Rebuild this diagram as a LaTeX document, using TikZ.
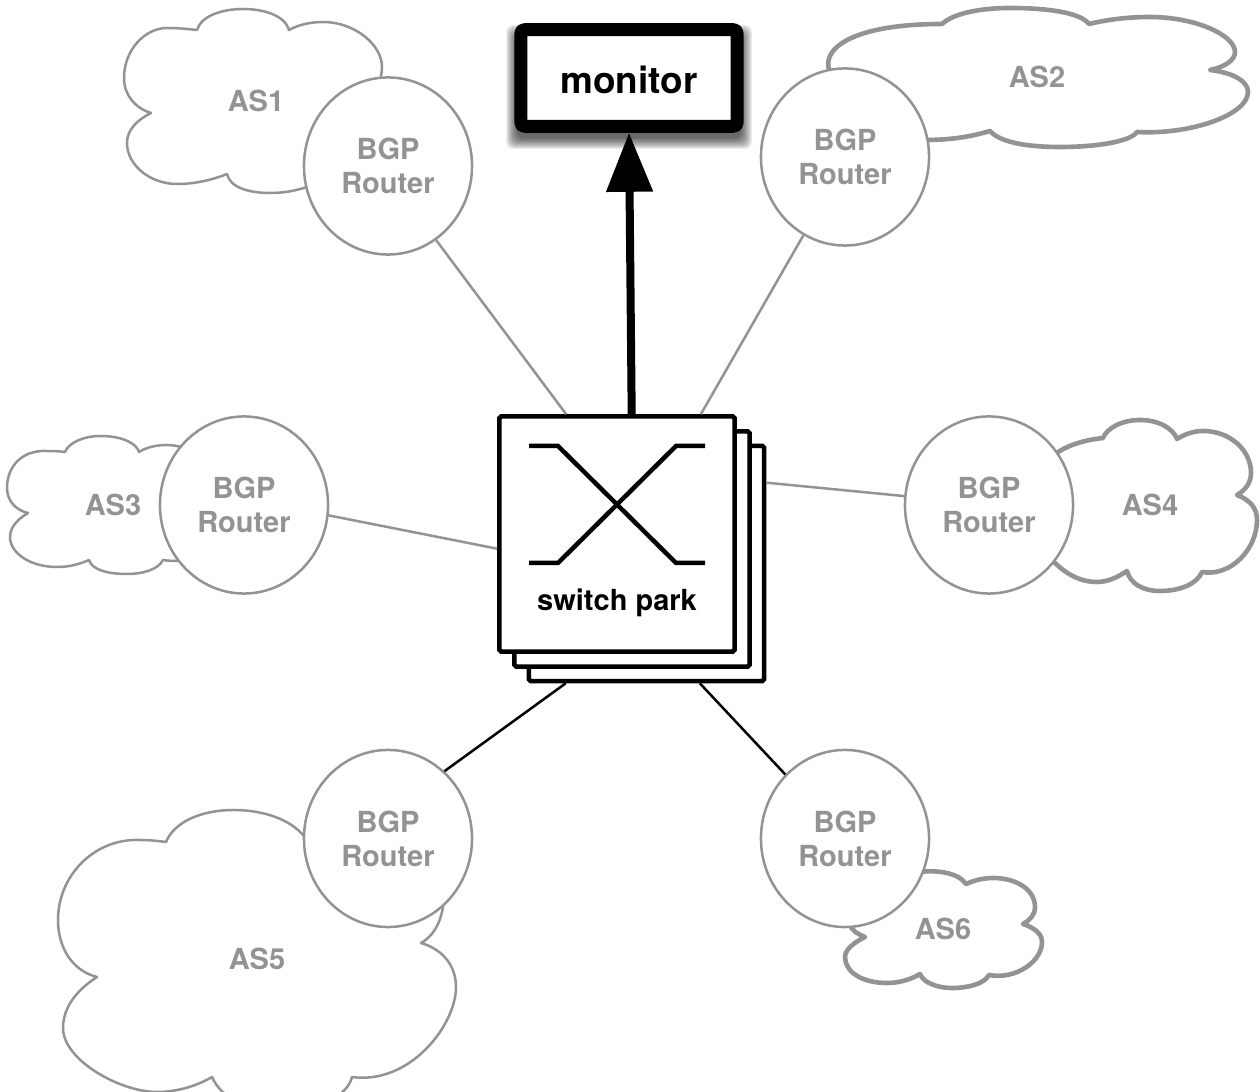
\documentclass[tikz,border=0pt]{standalone}
\usepackage{fontspec}
\setmainfont{TeX Gyre Heros}
\usetikzlibrary{arrows.meta,shapes.geometric}
\definecolor{asgray}{HTML}{939393}
\tikzset{
	thincloud/.style={draw=asgray, fill=white, line width=0.025cm, line join=round},
	thickcloud/.style={draw=asgray, fill=white, line width=0.046cm, line join=round},
	astext/.style={text=asgray, font=\fontsize{8.25}{9.7}\selectfont\bfseries},
	router/.style={ellipse, draw=asgray, fill=white, line width=0.025cm, minimum width=1.68cm, minimum height=1.77cm, inner sep=0pt, align=center, astext},
	switchbox/.style={rectangle, draw=black, fill=white, line width=0.045cm, minimum width=2.35cm, minimum height=2.35cm, rounded corners=0.5pt},
	graylink/.style={draw=asgray, line width=0.025cm},
	blacklink/.style={draw=black, line width=0.025cm},
	crossing/.style={line width=0.045cm}
}

\begin{document}
\begin{tikzpicture}[x=0.01cm, y=-0.01cm]
	%%%%% START %%%%%
	\useasboundingbox (0, 0) rectangle (1260, 1092);

	% clouds
	\draw[thincloud] (197,30) .. controls (201,16) and (222,9) .. (243,9) .. controls (265,9) and (285,16) .. (289,30)
		.. controls (298,25) and (310,22) .. (323,22) .. controls (355,22) and (382,45) .. (382,67)
		.. controls (382,72) and (381,76) .. (380,80) .. controls (370,120) and (340,170) .. (307,187)
		.. controls (295,191) and (283,193) .. (270,193) .. controls (250,193) and (230,188) .. (227,174)
		.. controls (212,180) and (195,184) .. (177,184) .. controls (150,184) and (127,165) .. (127,143)
		.. controls (127,130) and (137,120) .. (151,113) .. controls (135,108) and (124,95) .. (124,78)
		.. controls (124,50) and (145,28) .. (167,28) .. controls (178,28) and (188,29) .. (197,30) -- cycle;

	\draw[thickcloud] (830,72) .. controls (820,50) and (850,24) .. (942,24) .. controls (955,12) and (985,8) .. (1010,8)
		.. controls (1045,8) and (1080,12) .. (1089,24) .. controls (1110,19) and (1130,17) .. (1150,17)
		.. controls (1195,17) and (1235,35) .. (1235,52) .. controls (1235,60) and (1225,67) .. (1210,70)
		.. controls (1235,73) and (1248,82) .. (1248,92) .. controls (1248,115) and (1190,135) .. (1137,132)
		.. controls (1130,142) and (1095,147) .. (1060,147) .. controls (1025,147) and (1000,142) .. (990,131)
		.. controls (970,137) and (950,140) .. (925,140) -- cycle;

	\draw[thincloud] (65,452) .. controls (69,442) and (85,436) .. (100,436) .. controls (120,436) and (136,442) .. (139,452)
		.. controls (147,447) and (157,445) .. (167,445) .. controls (172,445) and (178,446) .. (185,448) -- (185,561)
		.. controls (175,561) and (168,561) .. (163,560) .. controls (158,570) and (142,574) .. (127,574)
		.. controls (108,574) and (92,570) .. (89,560) .. controls (80,564) and (70,567) .. (57,567)
		.. controls (30,567) and (10,553) .. (10,537) .. controls (10,527) and (18,519) .. (28,513)
		.. controls (15,510) and (7,500) .. (7,488) .. controls (7,468) and (20,452) .. (42,451)
		.. controls (50,451) and (58,451) .. (65,452) -- cycle;

	\draw[thickcloud] (1050,458) .. controls (1065,445) and (1085,440) .. (1103,438) .. controls (1107,428) and (1122,420) .. (1140,420)
		.. controls (1158,420) and (1173,428) .. (1177,439) .. controls (1185,434) and (1194,431) .. (1203,431)
		.. controls (1230,431) and (1251,450) .. (1251,473) .. controls (1251,482) and (1246,490) .. (1237,495)
		.. controls (1250,500) and (1257,508) .. (1257,520) .. controls (1257,550) and (1230,577) .. (1202,572)
		.. controls (1197,584) and (1180,591) .. (1160,591) .. controls (1142,591) and (1130,583) .. (1127,571)
		.. controls (1118,577) and (1108,582) .. (1097,582) .. controls (1080,582) and (1065,574) .. (1050,558) -- cycle;

	\draw[thincloud] (166,842) .. controls (175,820) and (205,810) .. (233,810) .. controls (265,810) and (290,820) .. (303,835)
		.. controls (330,860) and (450,870) .. (443,907) .. controls (440,925) and (432,937) .. (421,943)
		.. controls (445,950) and (456,968) .. (456,987) .. controls (456,1025) and (410,1085) .. (352,1077)
		.. controls (348,1095) and (320,1110) .. (285,1110) .. controls (250,1110) and (222,1100) .. (212,1077)
		.. controls (195,1087) and (175,1092) .. (157,1092) .. controls (120,1092) and (63,1060) .. (63,1028)
		.. controls (63,1005) and (80,988) .. (97,977) .. controls (70,970) and (58,945) .. (58,920)
		.. controls (58,875) and (95,838) .. (140,840) .. controls (150,840) and (158,841) .. (166,842) -- cycle;

	\draw[thickcloud] (920,872) .. controls (935,870) and (958,872) .. (966,884) .. controls (975,880) and (984,878) .. (993,878)
		.. controls (1017,878) and (1035,890) .. (1035,907) .. controls (1035,915) and (1030,920) .. (1023,924)
		.. controls (1035,928) and (1042,934) .. (1042,942) .. controls (1042,962) and (1015,980) .. (989,975)
		.. controls (984,984) and (968,988) .. (952,988) .. controls (936,988) and (923,982) .. (920,974)
		.. controls (910,980) and (898,983) .. (887,983) .. controls (862,983) and (845,972) .. (845,957)
		.. controls (845,950) and (853,943) .. (865,937) .. controls (858,934) and (852,931) .. (850,925) -- cycle;

	\node[astext] (as1) at (256, 101) {AS1};
	\node[astext] (as2) at (1037, 77) {AS2};
	\node[astext] (as3) at (113, 505) {AS3};
	\node[astext] (as4) at (1150, 505) {AS4};
	\node[astext] (as5) at (257, 959) {AS5};
	\node[astext] (as6) at (943, 929) {AS6};

	% routers
	\node[router] (r1) at (388, 166) {BGP\\Router};
	\node[router] (r2) at (845, 157) {BGP\\Router};
	\node[router] (r3) at (244, 505) {BGP\\Router};
	\node[router] (r4) at (989, 505) {BGP\\Router};
	\node[router] (r5) at (388, 838.5) {BGP\\Router};
	\node[router] (r6) at (845, 838.5) {BGP\\Router};

	% switch park
	\node[switchbox] (sw3) at (646.5, 563.5) {};
	\node[switchbox] (sw2) at (632, 549) {};
	\node[switchbox] (sw1) at (617, 534) {};
	\draw[crossing] (529, 446) -- (558, 446) -- (676, 563) -- (705, 563);
	\draw[crossing] (529, 563) -- (558, 563) -- (676, 446) -- (705, 446);
	\node[font=\fontsize{8.25}{9.7}\selectfont\bfseries] (swlabel) at (617, 603) {switch park};

	% links
	\draw[graylink] (r1.-57) -- (sw1.113);
	\draw[graylink] (r2.-118) -- (sw1.55.5);
	\draw[graylink] (r3.-7.3) -- (sw1.187.3);
	\draw[graylink] (r4.174) -- (sw3.34.4);
	\draw[blacklink] (r5.50) -- (sw3.-124.3);
	\draw[blacklink] (r6.133) -- (sw3.-66.3);

	% monitor
	\foreach \g in {0,...,11} {
		\fill[black, opacity=0.07, rounded corners=2pt] ({517-\g}, {36-\g}) rectangle ({741+\g}, {138+\g});
	}
	\node[rectangle, draw=black, fill=white, line width=0.13cm, line join=round, rounded corners=1pt, minimum width=2.16cm, minimum height=0.965cm, inner sep=0pt] (mon) at (629, 78) {};
	\node[font=\fontsize{10.5}{12}\selectfont\bfseries] (monlabel) at (629, 80) {monitor};
	\draw[line width=0.08cm, line cap=round, -{Triangle[length=0.59cm, width=0.45cm]}] (sw1.83) -- (mon.south);
	%%%%% END %%%%%
\end{tikzpicture}
\end{document}
